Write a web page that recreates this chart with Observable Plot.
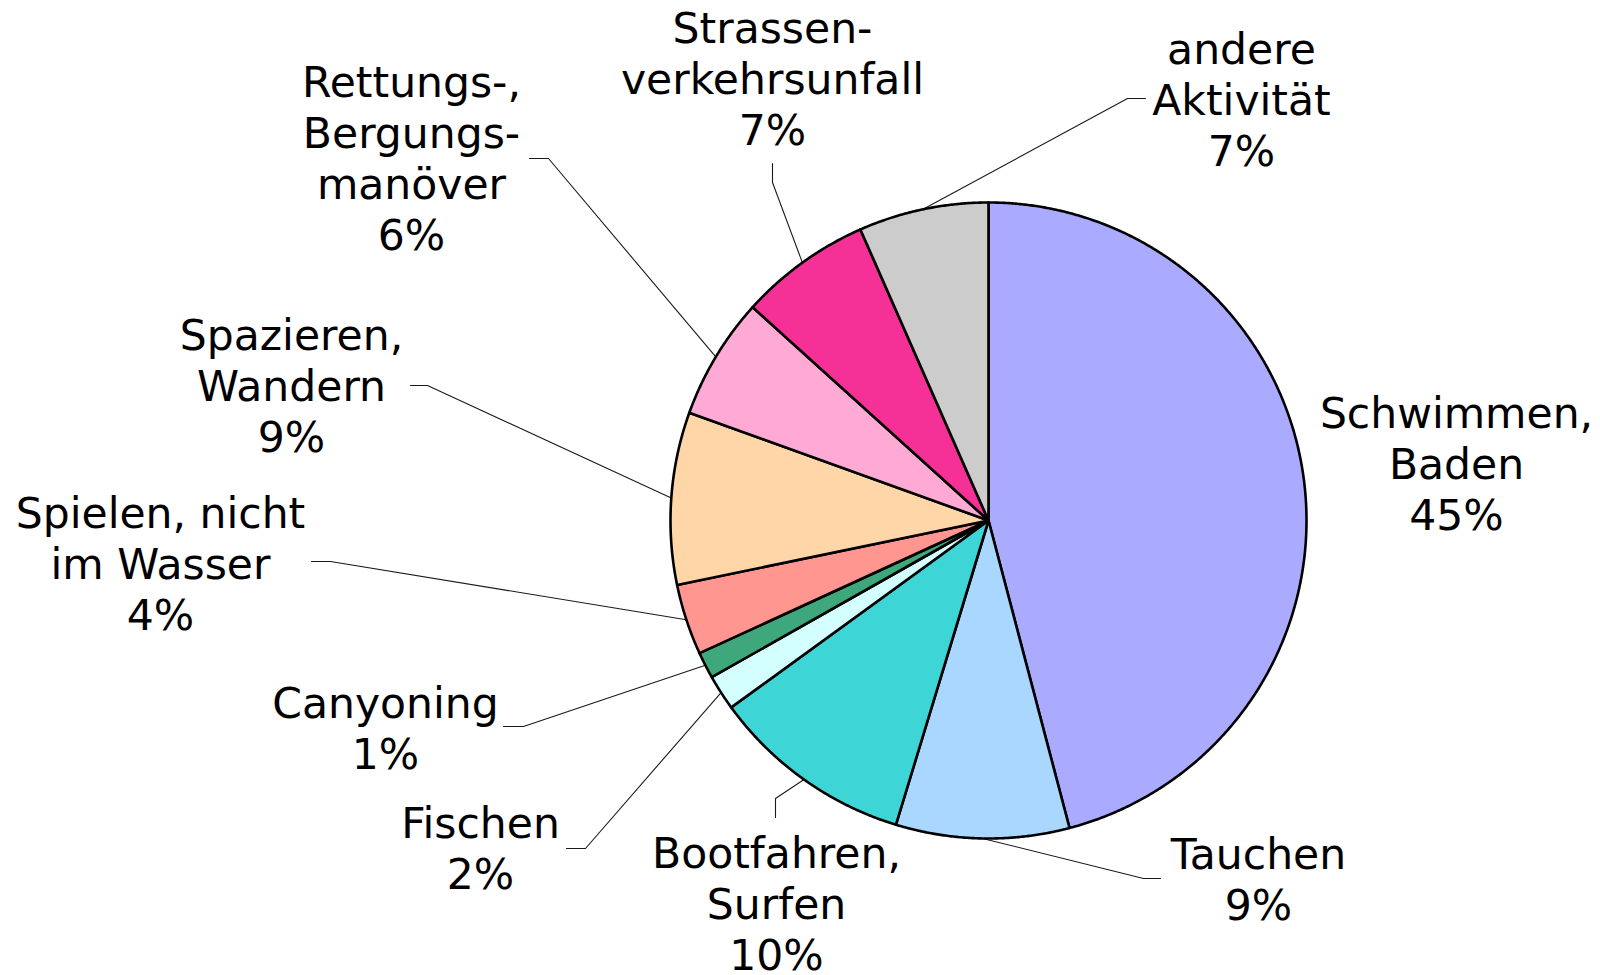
<!DOCTYPE html>
<html>
<head>
<meta charset="utf-8">
<script src="https://cdn.jsdelivr.net/npm/d3@7"></script>
<script src="https://cdn.jsdelivr.net/npm/@observablehq/plot@0.6"></script>
<style>
  html, body { margin: 0; padding: 0; background: #ffffff; }
  #chart svg { display: block; }
</style>
</head>
<body>
<div id="chart"></div>
<script>
// ---- data (clockwise from 12 o'clock) ----
const categories = [
  "Schwimmen,\nBaden",
  "Tauchen",
  "Bootfahren,\nSurfen",
  "Fischen",
  "Canyoning",
  "Spielen, nicht\nim Wasser",
  "Spazieren,\nWandern",
  "Rettungs-,\nBergungs-\nmanöver",
  "Strassen-\nverkehrsunfall",
  "andere\nAktivität"
];
const shares = [45.9, 8.8, 10.3, 1.8, 1.35, 3.6, 8.75, 6.2, 6.7, 6.6];
const percentLabels = ["45%", "9%", "10%", "2%", "1%", "4%", "9%", "6%", "7%", "7%"];
const sliceColors = ["#aaaaff", "#a9d7ff", "#3dd5d6", "#d3ffff", "#3ea77b", "#ff9690", "#ffd6a8", "#ffaad5", "#f53096", "#cccccc"];

// ---- layout (pixels) ----
const W = 1600, H = 975;
const cx = 988, cy = 520, R = 318;
// label block centres
const labelX = [1456, 1258, 776, 480, 385, 160, 291, 411, 772, 1241];
const labelY = [462, 878, 902, 847, 727, 562, 384, 157, 77, 98];
// leader lines: elbow and end point (null = no leader)
const leaderElbow = [null, [1143, 878], [775, 798], [585, 848], [523, 726], [330, 561], [427, 385], [548, 158], [772, 182], [1127, 98]];
const leaderEnd   = [null, [1160, 878], [775, 817], [566, 848], [503, 726], [311, 561], [410, 385], [529, 158], [772, 163], [1145, 98]];

const table = categories.map((name, i) => ({name, share: shares[i], pct: percentLabels[i], i}));
const arcs = d3.pie().sort(null).value(d => d.share)(table);

// slice polygons
const slicePts = [];
arcs.forEach(a => {
  const n = Math.max(4, Math.ceil((a.endAngle - a.startAngle) / 0.005));
  slicePts.push({name: a.data.name, x: cx, y: cy});
  for (let j = 0; j <= n; j++) {
    const t = a.startAngle + (a.endAngle - a.startAngle) * j / n;
    slicePts.push({name: a.data.name, x: cx + R * Math.sin(t), y: cy - R * Math.cos(t)});
  }
  slicePts.push({name: a.data.name, x: cx, y: cy});
});

// leader polylines
const leaderPts = [];
arcs.forEach((a, i) => {
  if (!leaderElbow[i]) return;
  const m = (a.startAngle + a.endAngle) / 2;
  leaderPts.push({k: i, x: cx + R * Math.sin(m), y: cy - R * Math.cos(m)});
  leaderPts.push({k: i, x: leaderElbow[i][0], y: leaderElbow[i][1]});
  leaderPts.push({k: i, x: leaderEnd[i][0], y: leaderEnd[i][1]});
});

const labels = table.map((d, i) => ({x: labelX[i], y: labelY[i], text: d.name + "\n" + d.pct}));

const chart = Plot.plot({
  width: W,
  height: H,
  margin: 0,
  x: {domain: [0, W], range: [0, W], axis: null},
  y: {domain: [0, H], range: [0, H], axis: null},
  color: {domain: categories, range: sliceColors},
  style: {background: "#ffffff"},
  marks: [
    Plot.line(leaderPts, {x: "x", y: "y", z: "k", stroke: "#1a1a1a", strokeWidth: 1.1}),
    Plot.line(slicePts, {x: "x", y: "y", z: "name", fill: "name", stroke: "#000000", strokeWidth: 2.6, strokeLinejoin: "round"}),
    Plot.text(labels, {
      x: "x", y: "y", text: "text",
      fontSize: 42.5, lineHeight: 1.2,
      textAnchor: "middle", lineAnchor: "middle",
      fontFamily: "DejaVu Sans, Verdana, sans-serif",
      fill: "#000000"
    })
  ]
});
document.getElementById("chart").appendChild(chart);
</script>
</body>
</html>
